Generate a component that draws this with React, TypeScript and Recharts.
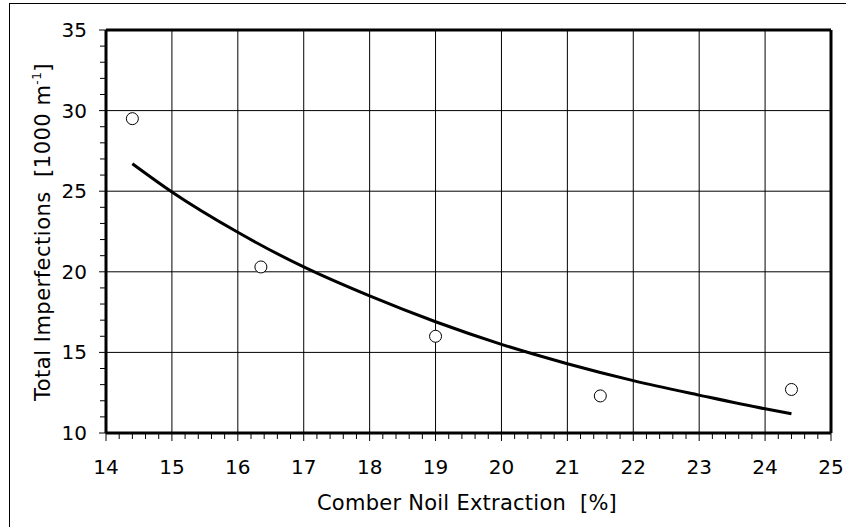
import { ComposedChart, Line, Scatter, XAxis, YAxis, CartesianGrid, ReferenceLine } from 'recharts'

// measured points
const noilX = [14.4, 16.35, 19.0, 21.5, 24.4]
const imperfY = [29.5, 20.3, 16.0, 12.3, 12.7]

// fitted curve
const trendX = [14.4, 15, 16, 17, 18, 19, 20, 21, 22, 23, 24, 24.4]
const trendY = [26.7, 24.95, 22.45, 20.3, 18.5, 16.9, 15.5, 14.3, 13.25, 12.35, 11.5, 11.2]

const xMajor = [14, 15, 16, 17, 18, 19, 20, 21, 22, 23, 24, 25]
const yMajor = [10, 15, 20, 25, 30, 35]

const points = noilX.map((x, i) => ({ x, y: imperfY[i] }))
const trend = trendX.map((x, i) => ({ x, y: trendY[i] }))

// minor ticks: 5 per major interval
function subdivide(majors: number[]) {
  const out: number[] = []
  for (let i = 0; i < majors.length - 1; i++) {
    const step = (majors[i + 1] - majors[i]) / 5
    for (let k = 0; k < 5; k++) out.push(Math.round((majors[i] + k * step) * 100) / 100)
  }
  out.push(majors[majors.length - 1])
  return out
}
const xTicks = subdivide(xMajor)
const yTicks = subdivide(yMajor)

const FONT = '"DejaVu Sans", Verdana, sans-serif'

function XTick(props: any) {
  const { x, y, payload } = props
  const major = xMajor.includes(payload.value)
  return (
    <g>
      <line x1={x} x2={x} y1={y} y2={y + (major ? 8 : 6)} stroke="#000" strokeWidth={1} />
      {major && (
        <text x={x} y={y + 41} textAnchor="middle" fontSize={20} fontFamily={FONT} fill="#000">
          {payload.value}
        </text>
      )}
    </g>
  )
}

function YTick(props: any) {
  const { x, y, payload } = props
  const major = yMajor.includes(payload.value)
  return (
    <g>
      <line x1={x - (major ? 7 : 6)} x2={x} y1={y} y2={y} stroke="#000" strokeWidth={1} />
      {major && (
        <text x={x - 19} y={y + 7} textAnchor="end" fontSize={20} fontFamily={FONT} fill="#000">
          {payload.value}
        </text>
      )}
    </g>
  )
}

function Circle(props: any) {
  const { cx, cy } = props
  return <circle cx={cx} cy={cy} r={6} fill="#fff" stroke="#000" strokeWidth={1} />
}

export default function App() {
  return (
    <div style={{ position: 'fixed', left: 0, top: 0, width: 846, height: 527, overflow: 'hidden', background: '#fff' }}>
      <div
        style={{
          position: 'absolute',
          left: 9,
          top: 3,
          width: 846,
          height: 527,
          borderLeft: '1px solid #000',
          borderTop: '1px solid #000',
        }}
      />
      <div style={{ position: 'absolute', left: 0, top: 0 }}>
        <ComposedChart width={846} height={527} margin={{ top: 30, right: 15, left: 0, bottom: 0 }}>
          <CartesianGrid stroke="#000" strokeWidth={1} verticalValues={xMajor} horizontalValues={yMajor} />
          <XAxis
            type="number"
            dataKey="x"
            domain={[14, 25]}
            ticks={xTicks}
            interval={0}
            height={94}
            tickSize={0}
            tickMargin={0}
            tickLine={false}
            tick={<XTick />}
            axisLine={{ stroke: '#000', strokeWidth: 3 }}
            allowDataOverflow
          />
          <YAxis
            type="number"
            domain={[10, 35]}
            ticks={yTicks}
            interval={0}
            width={106}
            tickSize={0}
            tickMargin={0}
            tickLine={false}
            tick={<YTick />}
            axisLine={{ stroke: '#000', strokeWidth: 3 }}
            allowDataOverflow
          />
          <ReferenceLine y={35} stroke="#000" strokeWidth={3} />
          <ReferenceLine x={25} stroke="#000" strokeWidth={3} />
          <Line
            data={trend}
            dataKey="y"
            type="monotone"
            stroke="#000"
            strokeWidth={3}
            dot={false}
            activeDot={false}
            isAnimationActive={false}
          />
          <Scatter data={points} dataKey="y" shape={<Circle />} isAnimationActive={false} />
        </ComposedChart>
      </div>
      <svg width={846} height={527} style={{ position: 'absolute', left: 0, top: 0, pointerEvents: 'none' }}>
        <text
          x={467}
          y={510}
          textAnchor="middle"
          fontSize={21}
          fontFamily={FONT}
          letterSpacing={0.25}
          fill="#000"
          style={{ whiteSpace: 'pre' }}
        >
          Comber Noil Extraction  [%]
        </text>
        <text
          transform="translate(50, 232) rotate(-90)"
          textAnchor="middle"
          fontSize={21}
          fontFamily={FONT}
          letterSpacing={0.5}
          fill="#000"
          style={{ whiteSpace: 'pre' }}
        >
          Total Imperfections  [1000 m<tspan dy={-9} fontSize={12}>-1</tspan>
          <tspan dy={9}>]</tspan>
        </text>
      </svg>
    </div>
  )
}
